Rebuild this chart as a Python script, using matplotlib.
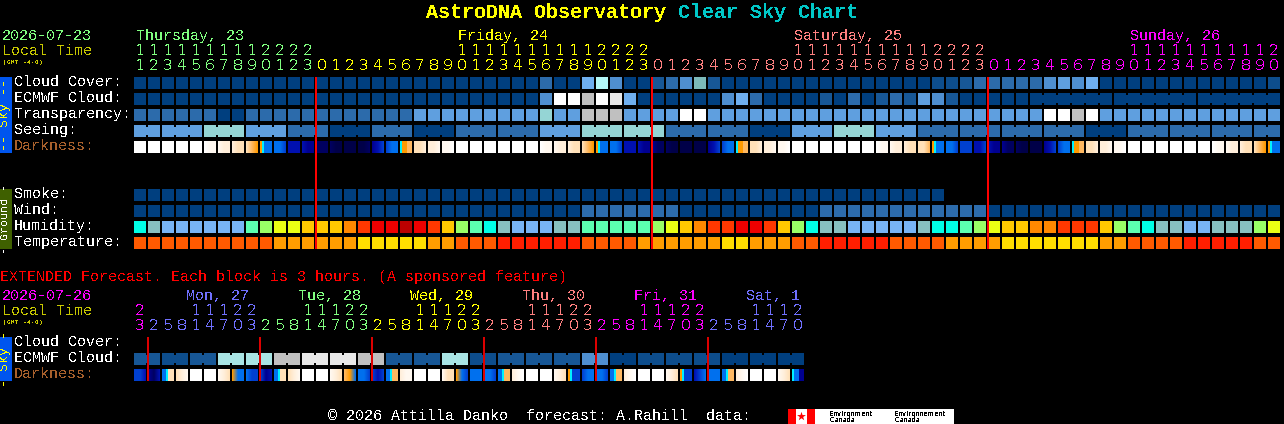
import matplotlib
matplotlib.use('Agg')
import matplotlib.pyplot as plt
from matplotlib.colors import to_rgb
from matplotlib.patches import Rectangle

plt.rcParams['text.antialiased'] = False
plt.rcParams['text.hinting'] = 'native'
plt.rcParams['text.hinting_factor'] = 1
plt.rcParams['font.family'] = ['Liberation Mono', 'DejaVu Sans Mono']

# Sky palette: cloud, transparency, seeing levels
SKY = ['#003f7f', '#0d4d8c', '#175796', '#2c6bab', '#4f8fd0', '#5f9fdf', '#6fafef',
       '#95d5d5', '#7cbaba', '#b4f8f8', '#c0c0c0', '#e8e8e8', '#ffffff', '#a8e4e4']
HUMID = ['#00ffe6', '#87c0c0', '#78b4f5', '#5cffb0', '#99ff66', '#eaff14', '#ffc800',
         '#ff8800', '#ff3800', '#ee0000', '#bb0000']
TEMP = ['#ffde00', '#ff9d00', '#ff5a00', '#ff1e00']
DARK = ['#ffffff', '#fff8f0', '#ffeeda', '#ffe0b8', '#ffb860', '#ff9a00', '#00f0ff',
        '#0070ee', '#0040d0', '#0010b0', '#000090', '#000060', '#000048']
CYAN = 6

# Main chart, one value per hour
cloud = [0]*29 + [3, 0, 0, 6, 9, 4, 0, 0, 2, 3, 4, 8, 2] + [0]*15 + [1, 1, 2, 3, 3, 3, 3, 3, 4, 5, 4, 6] + [0]*12 + [1]
ecmwf = [0]*29 + [4, 12, 12, 10, 12, 11, 6, 0] + [0]*5 + [4, 6, 3] + [0]*4 + [2, 0, 3, 0, 2, 3, 2, 5, 4, 2] + [0]*23
transp = [3]*6 + [0, 0] + [3]*12 + [5]*9 + [7, 5, 5, 10, 10, 10, 5, 5, 5, 5, 12, 12] + [5]*24 + [12, 12, 10, 12] + [5]*13
seeing = [5]*5 + [7]*3 + [5]*3 + [3]*3 + [0]*3 + [3]*3 + [0]*3 + [3]*6 + [5]*3 + [7]*6 + [3]*6 + [0]*3 + [5]*3 \
    + [7]*3 + [5]*3 + [3]*12 + [0]*3 + [3]*11
seeing_groups = [2, 3, 3, 3, 3, 3, 3, 3, 3, 3, 3, 3, 3, 3, 3, 3, 3, 3, 3, 3, 3, 3, 3, 3, 3, 3, 3, 2]
ecmwf_groups = [(64, 6), (70, 6), (76, 6)]
# three samples per hour
darkness = [0, 0, 0,  0, 0, 0,  0, 0, 0,  0, 0, 0,  0, 0, 0,  0, 1, 1,
            1, 2, 2,  2, 3, 3,  3, 4, 5,  5, 6, 7,  7, 7, 8,  9, 9, 9,
            9, 10, 10,  11, 11, 11,  11, 12, 12,  12, 12, 12,  12, 12, 11,  10, 9, 8,
            8, 7, 7,  6, 5, 4,  3, 3, 2,  2, 2, 1,  1, 1, 0,  0, 0, 0,
            0, 0, 0,  0, 0, 0,  0, 0, 0,  0, 0, 0,  0, 0, 0,  0, 1, 1,
            1, 2, 2,  2, 3, 3,  3, 4, 5,  5, 6, 7,  7, 7, 8,  9, 9, 9,
            9, 10, 10,  10, 11, 11,  11, 12, 12,  12, 12, 12,  12, 12, 12,  10, 9, 8,
            8, 7, 7,  6, 5, 4,  3, 3, 2,  2, 2, 1,  1, 1, 0,  0, 0, 0,
            0, 0, 0,  0, 0, 0,  0, 0, 0,  0, 0, 0,  0, 0, 0,  0, 1, 1,
            1, 2, 2,  2, 3, 3,  3, 3, 4,  5, 6, 7,  7, 7, 8,  8, 8, 8,
            9, 9, 8,  9, 10, 10,  10, 11, 11,  11, 12, 12,  12, 12, 12,  10, 9, 8,
            8, 7, 7,  6, 5, 4,  3, 3, 2,  2, 2, 1,  1, 1, 0,  0, 0, 0,
            0, 0, 0,  0, 0, 0,  0, 0, 0,  0, 0, 0,  0, 0, 0,  0, 1, 1,
            1, 2, 2,  2, 3, 3,  3, 4, 5,  5, 6, 7]
smoke = [0]*58
wind = [0]*32 + [3]*7 + [0]*10 + [3]*12 + [0]*21
humidity = [0, 1, 2, 2, 2, 2, 2, 2, 3, 4, 5, 5, 6, 6, 6, 7, 8, 9, 9, 10, 9, 8, 6, 4, 3, 0, 1, 2, 2, 2, 1, 1,
            3, 3, 3, 3, 3, 4, 5, 6, 7, 8, 8, 9, 9, 8, 6, 4, 0, 1, 1, 2, 2, 2, 2, 2, 1, 0, 0, 3, 4, 5, 6, 6,
            7, 7, 8, 8, 8, 6, 4, 3, 0, 1, 1, 2, 2, 1, 1, 1, 4, 5]
temperature = [2]*10 + [1]*6 + [0]*5 + [1, 1] + [2]*3 + [3]*6 + [2]*4 + [1]*6 + [0, 0] + [1]*3 + [2, 2] + [3]*5 \
    + [2]*4 + [1]*4 + [0]*7 + [1, 1] + [2]*4 + [3]*5 + [2, 2]
hours = [(11 + i) % 24 for i in range(82)]

# Extended chart, one value per 3 hours
ext_ecmwf = [2, 1, 2, 13, 13, 10, 11, 11, 10, 2, 2, 13, 1, 2, 2, 2, 4, 0, 1, 1, 1, 0, 0, 0]
ext_darkness = [8, 8, 9, 10, 11, 9, 7, 6, 3, 3, 2, 1, 0, 0, 0, 0, 0, 0, 1, 2, 3, 5, 7, 7,
                7, 8, 8, 8, 10, 9, 7, 6, 3, 3, 2, 1, 0, 0, 0, 0, 0, 0, 1, 2, 3, 4, 5, 7,
                7, 7, 8, 8, 9, 8, 7, 6, 4, 2, 1, 1, 0, 0, 0, 0, 0, 0, 1, 3, 3, 5, 7, 8,
                7, 7, 7, 7, 7, 8, 7, 6, 4, 2, 1, 0, 0, 0, 0, 0, 0, 0, 1, 2, 3, 5, 6, 8,
                8, 7, 7, 7, 7, 8, 7, 6, 4, 2, 1, 0, 0, 0, 0, 0, 0, 0, 1, 2, 3, 5, 6, 8,
                9, 8, 7, 7, 7, 7, 7, 6, 4, 2, 1, 0, 0, 0, 0, 0, 0, 0, 1, 2, 3, 6, 7, 10]
ext_hours = [(23 + 3*i) % 24 for i in range(48)]

DAY_COLOURS = {'green': '#80ff80', 'yellow': '#ffff00', 'salmon': '#ff8080', 'magenta': '#ff00ff', 'blue': '#7070ff'}
main_days = [('Thursday, 23', 0, 13, 'green'), ('Friday, 24', 13, 37, 'yellow'),
             ('Saturday, 25', 37, 61, 'salmon'), ('Sunday, 26', 61, 82, 'magenta')]
ext_days = [('', 0, 1, 'magenta'), ('Mon, 27', 1, 9, 'blue'), ('Tue, 28', 9, 17, 'green'), ('Wed, 29', 17, 25, 'yellow'),
            ('Thu, 30', 25, 33, 'salmon'), ('Fri, 31', 33, 41, 'magenta'), ('Sat, 1', 41, 48, 'blue')]

X0, STEP, BLOCK = 134, 14, 12

fig = plt.figure(figsize=(12.84, 4.24), dpi=100, facecolor='black')
ax = fig.add_axes([0, 0, 1, 1])
ax.set_xlim(0, 1284)
ax.set_ylim(424, 0)
ax.axis('off')


def col_x(i):
    return X0 + i*STEP


def label(x, y, s, color='white', size=10.8, **kw):
    ax.text(x, y + 1, s, color=color, fontsize=size, va='center', ha=kw.pop('ha', 'left'), **kw)


def strip(x, y, width, color):
    ax.bar(x, BLOCK, bottom=y, width=width, align='edge', color=[color], linewidth=0, antialiased=False)


def blocks(y, values, palette):
    xs = [col_x(i) for i in range(len(values))]
    ax.bar(xs, [BLOCK]*len(values), bottom=y, width=BLOCK, align='edge',
           color=[palette[v] for v in values], linewidth=0, antialiased=False)


def joins(y, values, palette, groups):
    # narrow link between hours that share one forecast value
    for start, size in groups:
        for i in range(start, start + size - 1):
            ax.bar(col_x(i) + BLOCK, BLOCK - 4, bottom=y + 2, width=STEP - BLOCK, align='edge',
                   color=palette[values[i]], linewidth=0, antialiased=False)


def shaded(y, values, palette):
    # three samples per block, blended pixel by pixel; the cyan edge of twilight stays a hard sliver
    for c in range(len(values)//3):
        a, b, d = values[3*c:3*c + 3]
        x = col_x(c)
        if CYAN in (a, b, d):
            if b == CYAN:
                widths = (2, 2, 8) if a == 5 else (4, 2, 6)
            elif a == CYAN:
                widths = (2, 5, 5)
            else:
                widths = (5, 5, 2)
            for v, w in zip((a, b, d), widths):
                strip(x, y, w, palette[v])
                x += w
            continue
        for px in range(BLOCK):
            p = px/(BLOCK - 1)*2
            lo, hi, t = (a, b, p) if p < 1 else (b, d, p - 1)
            rgb = tuple(u*(1 - t) + w*t for u, w in zip(to_rgb(palette[lo]), to_rgb(palette[hi])))
            strip(x + px, y, 1, rgb)


def hour_labels(y_tens, y_units, hrs, days, y_day, day_dx):
    for name, a, b, key in days:
        c = DAY_COLOURS[key]
        for i in range(a, b):
            h = hrs[i]
            cx = col_x(i) + 6
            if h >= 10:
                label(cx, y_tens, str(h//10), c, ha='center', family='DejaVu Sans', size=10.5)
            label(cx, y_units, str(h % 10), c, ha='center', family='DejaVu Sans', size=10.5)
        if name:
            first = next(i for i in range(a, b) if hrs[i] >= 10)
            label(col_x(first) + day_dx, y_day, name, c)


# title
label(426, 11, 'AstroDNA Observatory', '#ffff00', size=14.4, fontweight='bold')
label(678, 11, 'Clear Sky Chart', '#00c8c8', size=14.4, fontweight='bold')

# main header
label(2, 35, '2026-07-23', DAY_COLOURS['green'])
label(2, 50, 'Local Time', '#c8c800')
label(3, 61, '(GMT -4+0)', '#c8c800', size=4.6)
hour_labels(50, 65, hours, main_days, 35, 2)

# side tabs
ax.add_patch(Rectangle((0, 77), 12, 76, color='#0055ee', lw=0))
label(5, 114, '-- Sky --', '#ffff00', size=9, rotation=90, ha='center')
ax.add_patch(Rectangle((0, 189), 12, 60, color='#3f6000', lw=0))
label(5, 218, '- Ground -', 'white', size=7.8, rotation=90, ha='center')
ax.add_patch(Rectangle((0, 337), 12, 44, color='#0055ee', lw=0))
label(5, 358, '- Sky -', '#ffff00', size=9, rotation=90, ha='center')

# main rows
for name, y in [('Cloud Cover:', 81), ('ECMWF Cloud:', 97), ('Transparency:', 113), ('Seeing:', 129)]:
    label(14, y, name)
label(14, 145, 'Darkness:', '#a8602c')
for name, y in [('Smoke:', 193), ('Wind:', 209), ('Humidity:', 225), ('Temperature:', 241)]:
    label(14, y, name)

blocks(77, cloud, SKY)
blocks(93, ecmwf, SKY)
joins(93, ecmwf, SKY, ecmwf_groups)
blocks(109, transp, SKY)
blocks(125, seeing, SKY)
start = 0
for g in seeing_groups:
    joins(125, seeing, SKY, [(start, g)])
    start += g
shaded(141, darkness, DARK)
blocks(189, smoke, SKY)
blocks(205, wind, SKY)
blocks(221, humidity, HUMID)
blocks(237, temperature, TEMP)

# midnight markers
for i, h in enumerate(hours):
    if h == 0:
        ax.bar(col_x(i) - 1, 172, bottom=77, width=2, align='edge', color='#ff0000', linewidth=0,
               antialiased=False, zorder=5)

# extended forecast
label(0, 276, 'EXTENDED Forecast. Each block is 3 hours. (A sponsored feature)', '#ff0000')
label(2, 295, '2026-07-26', DAY_COLOURS['magenta'])
label(2, 310, 'Local Time', '#c8c800')
label(3, 321, '(GMT -4+0)', '#c8c800', size=4.6)
hour_labels(310, 325, ext_hours, ext_days, 295, -4)

label(14, 341, 'Cloud Cover:')
label(14, 357, 'ECMWF Cloud:')
label(14, 373, 'Darkness:', '#a8602c')

ext_cols = [v for v in ext_ecmwf for _ in range(2)]
blocks(353, ext_cols, SKY)
joins(353, ext_cols, SKY, [(2*g, 2) for g in range(len(ext_ecmwf))])
shaded(369, ext_darkness, DARK)

# first block after midnight is hour 2 in the 3 hour steps
for i, h in enumerate(ext_hours):
    if h == 2:
        ax.bar(col_x(i) - 1, 44, bottom=337, width=2, align='edge', color='#dd0000', linewidth=0,
               antialiased=False, zorder=5)

# footer
label(328, 415, '\u00a9 2026 Attilla Danko  forecast: A.Rahill  data:')
ax.add_patch(Rectangle((788, 409), 166, 15, color='white', lw=0))
ax.add_patch(Rectangle((788, 409), 8, 15, color='#ff0000', lw=0))
ax.add_patch(Rectangle((807, 409), 8, 15, color='#ff0000', lw=0))
ax.scatter([801], [416], marker='*', s=45, color='#ff0000', linewidths=0)
for x, a, b in [(829, 'Environment', 'Canada'), (894, 'Environnement', 'Canada')]:
    label(x, 412, a, 'black', size=5.4, family='DejaVu Sans')
    label(x, 419, b, 'black', size=5.4, family='DejaVu Sans')

fig.savefig('out.png', dpi=100, facecolor='black')
